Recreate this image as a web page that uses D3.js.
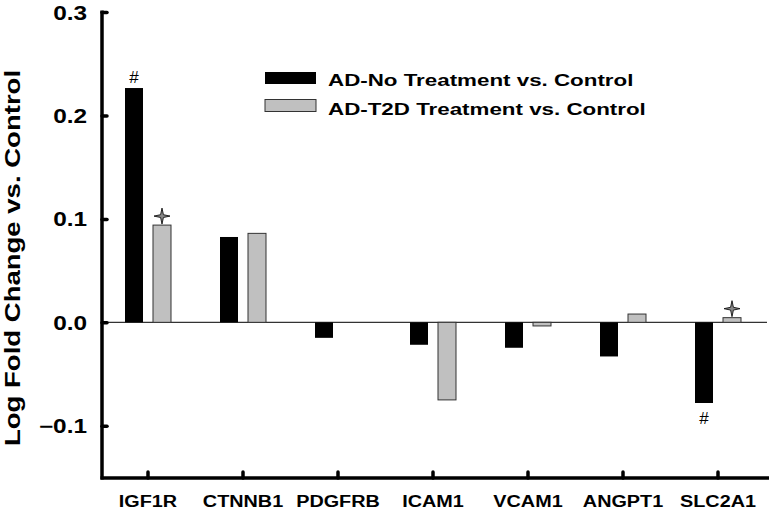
<!DOCTYPE html>
<html><head><meta charset="utf-8">
<script src="https://cdn.jsdelivr.net/npm/d3@7"></script>
<style>body{margin:0;background:#fff}svg{display:block}text{font-family:"Liberation Sans",Arial,sans-serif;font-weight:bold}</style>
</head><body>
<svg id="c" width="772" height="510"></svg>
<script>
const categories = ["IGF1R","CTNNB1","PDGFRB","ICAM1","VCAM1","ANGPT1","SLC2A1"];
const seriesNames = ["AD-No Treatment vs. Control","AD-T2D Treatment vs. Control"];
const noTreatment = [0.2265, 0.0825, -0.015, -0.0217, -0.0246, -0.033, -0.078];
const t2dTreatment = [0.094, 0.086, null, -0.075, -0.0035, 0.008, 0.0045];
const hashMarks = ["IGF1R","SLC2A1"];   // '#' on No Treatment
const starMarks = ["IGF1R","SLC2A1"];   // star on T2D Treatment
const yTicks = [-0.1, 0.0, 0.1, 0.2, 0.3];

const svg = d3.select("#c");
const x = d3.scaleBand().domain(categories).range([100.5, 765.5]).paddingInner(0).paddingOuter(0);
const y = d3.scaleLinear().domain([-0.1505, 0.3]).range([478, 12]);
const colors = ["#000000", "#c0c0c0"];
const bw = 18, off = 14;

function stretch(sel, k) {
  sel.each(function () {
    const w = this.getComputedTextLength();
    d3.select(this).attr("textLength", w * k).attr("lengthAdjust", "spacingAndGlyphs");
  });
}

// zero line
svg.append("line").attr("x1", 101).attr("x2", 767).attr("y1", y(0)).attr("y2", y(0))
  .attr("stroke", "#333").attr("stroke-width", 1.2);

const series = [noTreatment, t2dTreatment];
series.forEach((vals, si) => {
  svg.append("g").selectAll("rect").data(categories.map((c, i) => ({c, v: vals[i]})).filter(d => d.v != null))
    .join("rect")
    .attr("x", d => x(d.c) + x.bandwidth()/2 + (si === 0 ? -off : off) - bw/2)
    .attr("width", bw)
    .attr("y", d => y(Math.max(0, d.v)))
    .attr("height", d => Math.abs(y(d.v) - y(0)))
    .attr("fill", colors[si])
    .attr("stroke", si === 0 ? "#000" : "#333").attr("stroke-width", si === 0 ? 0 : 1);
});

// markers
hashMarks.forEach(c => {
  const i = categories.indexOf(c), v = noTreatment[i];
  const cx = x(c) + x.bandwidth()/2 - off;
  svg.append("text").attr("x", cx).attr("y", v > 0 ? y(v) - 5 : y(v) + 21)
    .attr("text-anchor", "middle").attr("font-size", 17)
    .style("font-weight", "normal")
    .text("#");
});
starMarks.forEach(c => {
  const i = categories.indexOf(c), v = t2dTreatment[i];
  const cx = x(c) + x.bandwidth()/2 + off, cy = y(v) - 9;
  const r = 8, s = 1.4;
  const p = `M${cx},${cy-r} L${cx+s},${cy-s} L${cx+r},${cy} L${cx+s},${cy+s} L${cx},${cy+r} L${cx-s},${cy+s} L${cx-r},${cy} L${cx-s},${cy-s}Z`;
  svg.append("path").attr("d", p).attr("fill", "#888").attr("stroke", "#111").attr("stroke-width", 0.9);
});

// y axis
const yAxis = d3.axisLeft(y).tickValues(yTicks).tickFormat(d3.format(".1f")).tickSize(-5).tickPadding(15);
const gy = svg.append("g").attr("transform", "translate(102,0)").call(yAxis);
gy.select(".domain").remove();
gy.selectAll(".tick line").attr("stroke", "#000").attr("stroke-width", 3.5).attr("stroke-linecap", "round");
gy.selectAll(".tick text").attr("font-size", 19.5).attr("fill", "#000").attr("dy", "0.36em");
stretch(gy.selectAll(".tick text"), 1.25);
svg.append("line").attr("x1", 102).attr("x2", 102).attr("y1", 10.5).attr("y2", 479.5)
  .attr("stroke", "#000").attr("stroke-width", 3.5);
svg.append("line").attr("x1", 100.5).attr("x2", 769).attr("y1", 478).attr("y2", 478)
  .attr("stroke", "#000").attr("stroke-width", 3.5);

// x axis
const xAxis = d3.axisBottom(x).tickSize(-6).tickPadding(17);
const gx = svg.append("g").attr("transform", "translate(0,478)").call(xAxis);
gx.select(".domain").remove();
gx.selectAll(".tick line").attr("stroke", "#000").attr("stroke-width", 3.5).attr("stroke-linecap", "round");
gx.selectAll(".tick text").attr("font-size", 16.8).attr("fill", "#000").attr("dy", "0.71em");
stretch(gx.selectAll(".tick text"), 1.18);

// y title
const yt = svg.append("text").attr("transform", "translate(20,258) rotate(-90)").attr("text-anchor", "middle")
  .attr("font-size", 21.5).text("Log Fold Change vs. Control");
stretch(yt, 1.28);

// legend
const lg = svg.append("g").attr("transform", "translate(265,72)");
seriesNames.forEach((n, i) => {
  lg.append("rect").attr("x", 0).attr("y", i*27.5).attr("width", 51).attr("height", 12)
    .attr("fill", colors[i]).attr("stroke", i === 0 ? "#000" : "#333").attr("stroke-width", i === 0 ? 0 : 1);
  const t = lg.append("text").attr("x", 63).attr("y", i*28.5 + 14).attr("font-size", 17.2).text(n);
  stretch(t, 1.3);
});
</script>
</body></html>
